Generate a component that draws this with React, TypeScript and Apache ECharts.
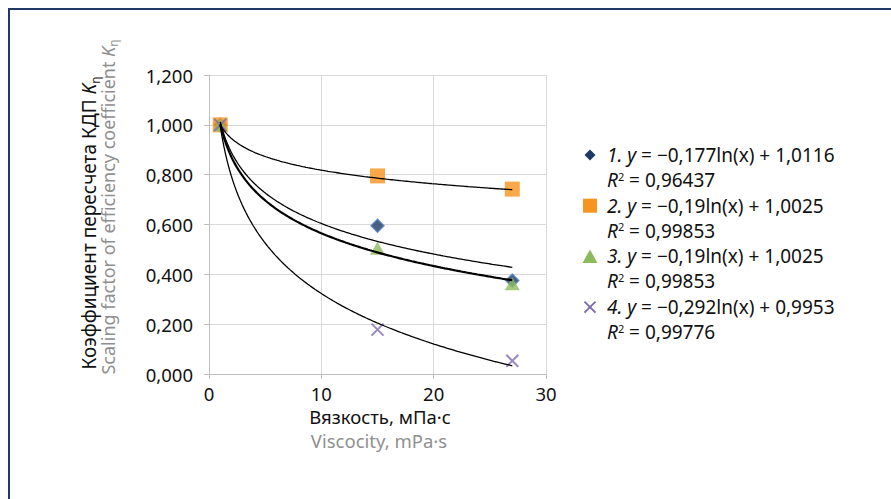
import React, { useEffect, useRef } from 'react';
import * as echarts from 'echarts';

const FONT = '"Noto Sans", "DejaVu Sans", sans-serif';

// Data
const xValues = [1, 15, 27];
const series1 = [1.0, 0.595, 0.375];
const series2 = [1.0, 0.795, 0.742];
const series3 = [1.0, 0.505, 0.362];
const series4 = [1.0, 0.178, 0.053];
const seriesNames = ['1', '2', '3', '4'];

// Logarithmic trend lines y = a ln(x) + b (as drawn)
const trendA = [-0.177, -0.079, -0.19, -0.292];
const trendB = [1.0116, 1.0, 1.0025, 0.9953];
const trendFrom = 1;
const trendTo = 27;

// Legend texts
const legendEq = [
  '{i|1. y} = −0,177ln(x) + 1,0116',
  '{i|2. y} = −0,19ln(x) + 1,0025',
  '{i|3. y} = −0,19ln(x) + 1,0025',
  '{i|4. y} = −0,292ln(x) + 0,9953',
];
const legendR2 = ['0,96437', '0,99853', '0,99853', '0,99776'];

const yTicks = { min: 0, max: 1.2, interval: 0.2 };
const xTicks = { min: 0, max: 30, interval: 10 };

const colors = {
  diamond: '#1F3864',
  diamondBorder: '#4F81BD',
  square: '#F7941D',
  triangle: '#8DBB5B',
  cross: '#7F6BB0',
};

const FS = 18.5;
const LFS = 19;

function trendPoints(i: number) {
  const pts: number[][] = [];
  const n = 160;
  for (let k = 0; k <= n; k++) {
    const x = trendFrom + ((trendTo - trendFrom) * k) / n;
    pts.push([x, trendA[i] * Math.log(x) + trendB[i]]);
  }
  return pts;
}

export default function App() {
  const ref = useRef<HTMLDivElement>(null);
  useEffect(() => {
    if (!ref.current) return;
    const chart = echarts.init(ref.current, undefined, { renderer: 'svg' });
    const pair = (ys: number[]) => xValues.map((x, i) => [x, ys[i]]);
    const richBase = {
      i: { fontStyle: 'italic', fontSize: LFS, fontFamily: FONT, fill: '#111', color: '#111' },
      sup: { fontSize: 11, fontFamily: FONT, fill: '#111', color: '#111', verticalAlign: 'top', lineHeight: 19 },
      n: { fontSize: LFS, fontFamily: FONT, fill: '#111', color: '#111' },
    };
    const legendTop = 155;
    const lineH = 25;
    const entryH = 50.7;
    const legendTexts: any[] = [];
    for (let k = 0; k < 4; k++) {
      legendTexts.push({
        type: 'text',
        x: 607,
        y: legendTop + k * entryH,
        style: {
          text: legendEq[k],
          fontSize: LFS,
          fontFamily: FONT,
          fill: '#111',
          verticalAlign: 'middle',
          rich: richBase,
        },
      });
      legendTexts.push({
        type: 'text',
        x: 607,
        y: legendTop + k * entryH + lineH,
        style: {
          text: '{i|R}{sup|2}{n| = ' + legendR2[k] + '}',
          fontSize: LFS,
          fontFamily: FONT,
          fill: '#111',
          verticalAlign: 'middle',
          rich: richBase,
        },
      });
    }
    const lx = 590;
    const markerGraphics: any[] = [
      {
        type: 'polygon',
        shape: { points: [[lx, legendTop - 5.5], [lx + 5.5, legendTop], [lx, legendTop + 5.5], [lx - 5.5, legendTop]] },
        style: { fill: colors.diamond },
      },
      {
        type: 'rect',
        shape: { x: lx - 7, y: legendTop + entryH - 7, width: 14, height: 14 },
        style: { fill: colors.square },
      },
      {
        type: 'polygon',
        shape: {
          points: [
            [lx, legendTop + 2 * entryH - 7],
            [lx + 7.5, legendTop + 2 * entryH + 6.5],
            [lx - 7.5, legendTop + 2 * entryH + 6.5],
          ],
        },
        style: { fill: colors.triangle },
      },
      {
        type: 'line',
        shape: { x1: lx - 5.5, y1: legendTop + 3 * entryH - 5.5, x2: lx + 5.5, y2: legendTop + 3 * entryH + 5.5 },
        style: { stroke: colors.cross, lineWidth: 2 },
      },
      {
        type: 'line',
        shape: { x1: lx + 5.5, y1: legendTop + 3 * entryH - 5.5, x2: lx - 5.5, y2: legendTop + 3 * entryH + 5.5 },
        style: { stroke: colors.cross, lineWidth: 2 },
      },
    ];
    const titleRich = {
      k: { fontSize: 19, fontFamily: FONT, fill: '#111', color: '#111', fontStyle: 'italic' },
      s: { fontSize: 12, fontFamily: FONT, fill: '#111', color: '#111', verticalAlign: 'bottom', lineHeight: 24 },
      kg: { fontSize: 18, fontFamily: FONT, fill: '#8F8F8F', color: '#8F8F8F', fontStyle: 'italic' },
      sg: { fontSize: 12, fontFamily: FONT, fill: '#8F8F8F', color: '#8F8F8F', verticalAlign: 'bottom', lineHeight: 23 },
    };
    const option: any = {
      animation: false,
      backgroundColor: '#fff',
      grid: { left: 209, right: 345, top: 75, bottom: 125, containLabel: false },
      xAxis: {
        type: 'value',
        min: xTicks.min,
        max: xTicks.max,
        interval: xTicks.interval,
        axisLine: { show: true, lineStyle: { color: '#BFBFBF', width: 1 } },
        axisTick: { show: true, length: 5, lineStyle: { color: '#BFBFBF' } },
        splitLine: { show: true, lineStyle: { color: '#D9D9D9', width: 1 } },
        axisLabel: { fontSize: FS, fontFamily: FONT, color: '#111', margin: 10 },
      },
      yAxis: {
        type: 'value',
        min: yTicks.min,
        max: yTicks.max,
        interval: yTicks.interval,
        axisLine: { show: true, lineStyle: { color: '#BFBFBF', width: 1 } },
        axisTick: { show: true, length: 5, lineStyle: { color: '#BFBFBF' } },
        splitLine: { show: true, lineStyle: { color: '#D9D9D9', width: 1 } },
        axisLabel: {
          fontSize: FS,
          fontFamily: FONT,
          color: '#111',
          margin: 16,
          formatter: (v: number) => v.toFixed(3).replace('.', ','),
        },
      },
      series: [
        {
          name: seriesNames[0],
          type: 'scatter',
          data: pair(series1),
          symbol: 'diamond',
          symbolSize: 13,
          itemStyle: { color: colors.diamond, borderColor: colors.diamondBorder, borderWidth: 1.5 },
          z: 2,
        },
        {
          name: seriesNames[1],
          type: 'scatter',
          data: pair(series2),
          symbol: 'rect',
          symbolSize: 15,
          itemStyle: { color: colors.square },
          z: 2,
        },
        {
          name: seriesNames[2],
          type: 'scatter',
          data: pair(series3),
          symbol: 'triangle',
          symbolSize: [15, 13],
          itemStyle: { color: colors.triangle },
          z: 2,
        },
        {
          name: seriesNames[3],
          type: 'scatter',
          data: pair(series4),
          symbol: 'path://M0,0L10,10M10,0L0,10',
          symbolSize: 12,
          itemStyle: { color: 'none', borderColor: colors.cross, borderWidth: 2 },
          z: 3,
        },
        ...[0, 1, 2, 3].map((i) => ({
          name: 'trend' + (i + 1),
          type: 'line',
          data: trendPoints(i),
          showSymbol: false,
          symbol: 'none',
          silent: true,
          lineStyle: { color: '#000', width: i === 2 ? 2.2 : 1.3 },
          z: 4,
        })),
      ],
      graphic: [
        {
          type: 'rect',
          shape: { x: 9, y: 9, width: 900, height: 520 },
          style: { fill: 'none', stroke: '#1F3864', lineWidth: 2 },
          silent: true,
        },
        {
          type: 'text',
          x: 89,
          y: 223,
          rotation: Math.PI / 2,
          style: {
            text: 'Коэффициент пересчета КДП {k|K}{s|η}',
            fontSize: 19,
            fontFamily: FONT,
            fill: '#111',
            align: 'center',
            verticalAlign: 'middle',
            rich: titleRich,
          },
        },
        {
          type: 'text',
          x: 108,
          y: 207,
          rotation: Math.PI / 2,
          style: {
            text: 'Scaling factor of efficiency coefficient {kg|K}{sg|η}',
            fontSize: 18,
            fontFamily: FONT,
            fill: '#8F8F8F',
            align: 'center',
            verticalAlign: 'middle',
            rich: titleRich,
          },
        },
        {
          type: 'text',
          x: 380,
          y: 416,
          style: {
            text: 'Вязкость, мПа·с',
            fontSize: FS,
            fontFamily: FONT,
            fill: '#111',
            align: 'center',
            verticalAlign: 'middle',
          },
        },
        {
          type: 'text',
          x: 379,
          y: 440,
          style: {
            text: 'Viscocity, mPa·s',
            fontSize: FS,
            fontFamily: FONT,
            fill: '#8F8F8F',
            align: 'center',
            verticalAlign: 'middle',
          },
        },
        ...markerGraphics,
        ...legendTexts,
      ],
    };
    chart.setOption(option);
    return () => chart.dispose();
  }, []);
  return (
    <div
      ref={ref}
      style={{ position: 'fixed', left: 0, top: 0, width: 891, height: 499 }}
    />
  );
}
